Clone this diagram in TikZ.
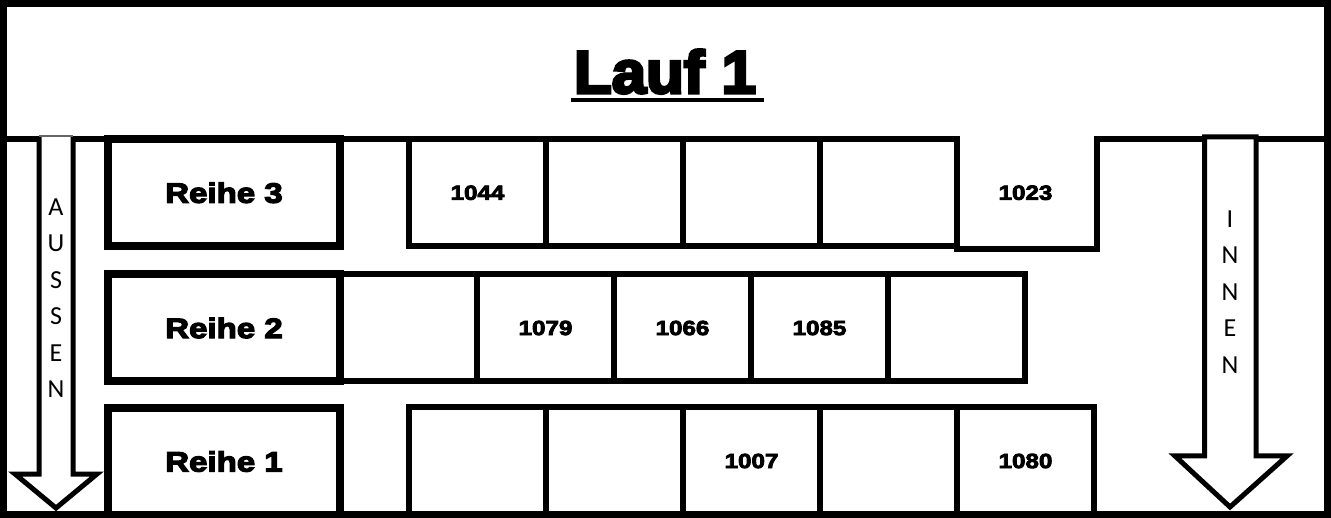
\documentclass[tikz,border=0pt]{standalone}
\usepackage{fontspec}
\newfontfamily\titlefont{Liberation Sans Bold}[FakeStretch=1.03,FakeBold=5]
\newfontfamily\blackfont{Liberation Sans Bold}[FakeStretch=1.18,FakeBold=4.5]
\newfontfamily\numfont{Liberation Sans Bold}[FakeStretch=1.18,FakeBold=4]
\newfontfamily\calfont{Carlito}
\begin{document}
\begin{tikzpicture}[x=1pt,y=-1pt,
  rowbox/.style={draw, line width=8pt, minimum width=232pt, inner sep=0pt,
    font=\blackfont\fontsize{28}{32}\selectfont},
  cell/.style={draw, line width=6pt, minimum width=137pt, inner sep=0pt,
    font=\numfont\fontsize{20.5}{23}\selectfont},
  opencell/.style={cell, draw=none},
  wall/.style={line width=6pt},
  arrowline/.style={line width=5pt, line join=miter, fill=white},
  vletters/.style={font=\calfont\fontsize{26}{36.5}\selectfont, align=center, inner sep=0pt},
  divider/.style={line width=6pt}]
\useasboundingbox (0,0) rectangle (1331,518);
\fill[white] (0,0) rectangle (1331,518);

% title
\node[font=\titlefont\fontsize{60}{70}\selectfont, anchor=base, inner sep=0pt] (title) at (665,93) {Lauf 1};
\draw[line width=4.5pt] ([xshift=-3pt,yshift=-7pt]title.base west) -- ([xshift=8pt,yshift=-7pt]title.base east);

% divider line under title
\coordinate (dl0) at (0,139);
\coordinate (dl1) at (957,139);
\coordinate (dr0) at (1094,139);
\coordinate (dr1) at (1331,139);
\draw[divider] (dl0) -- (dl1);
\draw[divider] (dr0) -- (dr1);

% row 3 cells
\node[cell, minimum height=107.5pt] (c31) at (477.5,192.75) {1044};
\node[cell, minimum height=107.5pt] (c32) at (614.5,192.75) {};
\node[cell, minimum height=107.5pt] (c33) at (751.5,192.75) {};
\node[cell, minimum height=107.5pt] (c34) at (888.5,192.75) {};
\node[opencell, minimum height=107.5pt] (c35) at (1025.5,192.75) {1023};
\draw[wall, line join=miter] (c35.north east) -- (c35.south east) -- (c35.south west);

% row 2 cells
\node[cell, minimum height=107pt] (c21) at (408.5,328) {};
\node[cell, minimum height=107pt] (c22) at (545.5,328) {1079};
\node[cell, minimum height=107pt] (c23) at (682.5,328) {1066};
\node[cell, minimum height=107pt] (c24) at (819.5,328) {1085};
\node[cell, minimum height=107pt] (c25) at (956.5,328) {};

% row 1 cells
\node[cell, minimum height=107pt] (c11) at (477.5,461) {};
\node[cell, minimum height=107pt] (c12) at (614.5,461) {};
\node[cell, minimum height=107pt] (c13) at (751.5,461) {1007};
\node[cell, minimum height=107pt] (c14) at (888.5,461) {};
\node[cell, minimum height=107pt] (c15) at (1025.5,461) {1080};

% row boxes
\node[rowbox, minimum height=107.5pt] (r3) at (224,192.75) {Reihe 3};
\node[rowbox, minimum height=107pt] (r2) at (224,328) {Reihe 2};
\node[rowbox, minimum height=106pt] (r1) at (224,461.5) {Reihe 1};

% AUSSEN arrow
\fill[white] (39,137) -- (39,474) -- (15,474) -- (56,508) -- (97,474) -- (73,474) -- (73,137) -- cycle;
\draw[line width=5pt, line join=miter] (39,137) -- (39,474) -- (15,474) -- (56,508) -- (97,474) -- (73,474) -- (73,137);
\draw[line width=1.5pt, black!60] (39,136) -- (73,136);
\node[vletters] (aussen) at (56,298) {A\\U\\S\\S\\E\\N};

% INNEN arrow
\draw[arrowline] (1204.5,137) -- (1204.5,456) -- (1175,456) -- (1230,507) -- (1287,456) -- (1256,456) -- (1256,137) -- cycle;
\node[vletters] (innen) at (1230,292) {I\\N\\N\\E\\N};

% outer frame
\draw[line width=7pt] (3.5,3.5) rectangle (1327.5,514.5);
\end{tikzpicture}
\end{document}
